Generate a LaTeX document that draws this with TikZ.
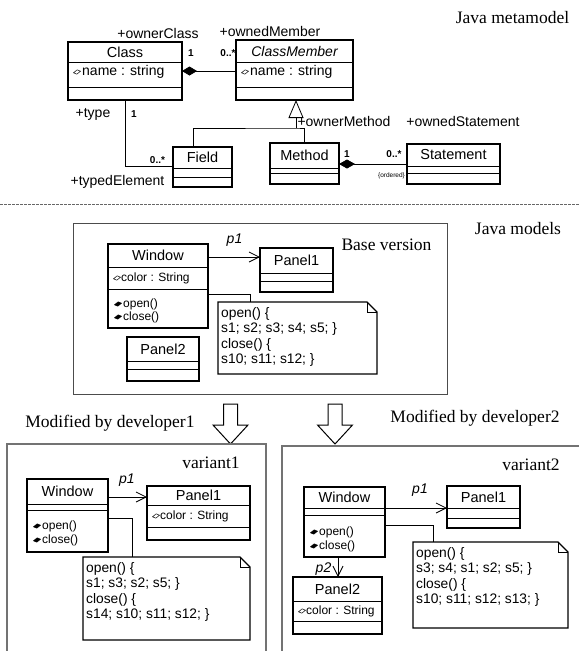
\documentclass[tikz,border=0pt]{standalone}
\usepackage{fontspec}
\setmainfont{Liberation Serif}
\setsansfont{Liberation Sans}
\usetikzlibrary{arrows.meta,calc}

\tikzset{
 umlbox/.style={draw, line width=1.3pt, inner sep=0pt, outer sep=0pt, fill=white, anchor=north west},
 divline/.style={line width=0.7pt},
 ttl/.style={font=\sffamily\fontsize{14.5}{16}\selectfont, inner sep=0pt},
 ittl/.style={font=\sffamily\itshape\fontsize{14}{16}\selectfont, inner sep=0pt},
 mmattr/.style={font=\sffamily\fontsize{14}{16}\selectfont, inner sep=0pt, anchor=west},
 attr/.style={font=\sffamily\fontsize{12}{14}\selectfont, inner sep=0pt, anchor=west},
 role/.style={font=\sffamily\fontsize{14}{16}\selectfont, inner sep=0pt},
 mult/.style={font=\sffamily\bfseries\fontsize{10}{12}\selectfont, inner sep=0pt},
 cons/.style={font=\sffamily\fontsize{6.5}{8}\selectfont, inner sep=0pt},
 lbl/.style={font=\fontsize{17.5}{20}\selectfont, inner sep=0pt},
 rolename/.style={font=\sffamily\itshape\fontsize{14}{16}\selectfont, inner sep=0pt},
 notetxt/.style={font=\sffamily\fontsize{13.8}{15.5}\selectfont, inner sep=0pt, align=left, anchor=north west},
 conn/.style={line width=0.8pt},
 assoc/.style={line width=0.8pt, -{Straight Barb[length=10pt,width=10pt,line width=0.8pt]}},
 baseframe/.style={draw=black!70, line width=1pt},
 varframe/.style={draw=black!55, line width=1.3pt},
 bigarrow/.style={draw, line width=1pt, fill=white},
}

\newcommand\umlcls[9]{%
 \node[umlbox, minimum width=#4pt, minimum height=#5pt] (#1) at (#2,#3) {};
 \draw[divline] ($(#1.north west)+(0,#6)$) -- ($(#1.north east)+(0,#6)$);
 \draw[divline] ($(#1.north west)+(0,#7)$) -- ($(#1.north east)+(0,#7)$);
 \node[#8] (#1t) at ($(#1.north)+(0,#6/2)$) {#9};
}
\newcommand\umlnote[6]{%
 \node[inner sep=0pt, outer sep=0pt, minimum width=#4pt, minimum height=#5pt, anchor=north west] (#1) at (#2,#3) {};
 \draw[line width=1.3pt, fill=white] (#1.north west) -- ($(#1.north east)+(-10,0)$) -- ($(#1.north east)+(0,10)$) -- (#1.south east) -- (#1.south west) -- cycle;
 \draw[line width=0.6pt] ($(#1.north east)+(-10,0)$) -- ($(#1.north east)+(-10,10)$) -- ($(#1.north east)+(0,10)$);
 \node[notetxt] (#1t) at ($(#1.north west)+(3,5)$) {#6};
}
\newcommand\attricon[2]{\draw[line width=0.5pt, fill=white] (#1,#2) +(-3.5,0.8) -- +(0.2,-2.2) -- +(3.5,-0.8) -- +(-0.2,2.2) -- cycle;}
\newcommand\opicon[2]{\draw[line width=0.5pt, fill=black] (#1,#2) +(-3.5,0.8) -- +(0.2,-2.2) -- +(3.5,-0.8) -- +(-0.2,2.2) -- cycle;}
\newcommand\blockarrow[1]{\draw[bigarrow] (#1-7,404) -- (#1+7,404) -- (#1+7,425) -- (#1+17.5,425) -- (#1,444) -- (#1-17.5,425) -- (#1-7,425) -- cycle;}

\begin{document}
\begin{tikzpicture}[x=1pt,y=-1pt]
\useasboundingbox (0,0) rectangle (579,651);

% ---------------- metamodel ----------------
\node[lbl] (jmm) at (512.5,18) {Java metamodel};

\umlcls{cls}{68}{42}{114}{58}{20}{45}{ttl}{Class}
\attricon{77}{72}
\node[mmattr] (clsa) at (82,72) {name : string};

\umlcls{cm}{236}{40}{117}{60}{22}{47}{ittl}{ClassMember}
\attricon{245}{72}
\node[mmattr] (cma) at (250,72) {name : string};

\draw[conn, {Diamond[length=15pt,width=9pt]}-] ($(cls.north east)+(0,29)$) -- ($(cm.north west)+(0,31)$);
\node[mult] (m1) at (191,53) {1};
\node[mult] (m2) at (228,53) {0..*};
\node[role] (r1) at (158,33) {+ownerClass};
\node[role] (r2) at (270,31) {+ownedMember};

\umlcls{fld}{173}{147}{59}{40}{21}{30}{ttl}{Field}
\draw[conn] ($(cls.south west)+(57,0)$) |- ($(fld.north west)+(0,19)$);
\node[role] (r3) at (93,114) {+type};
\node[mult] (m3) at (134,114) {1};
\node[mult] (m4) at (157.5,160) {0..*};
\node[role] (r4) at (117.5,182) {+typedElement};

\umlcls{mth}{270}{143}{69}{41}{25}{30}{ttl}{Method}
\umlcls{stm}{407}{144}{93}{40}{22}{29}{ttl}{Statement}

\coordinate (gj) at (296,128);
\draw[conn] ($(fld.north west)+(20,0)$) |- (gj) -| (mth.north);
\draw[conn, -{Triangle[open,length=18pt,width=15pt,line width=0.8pt]}] (gj) -- (gj |- cm.south);

\draw[conn, {Diamond[length=16pt,width=9pt]}-] ($(mth.north east)+(0,21)$) -- ($(stm.north west)+(0,20)$);
\node[mult] (m5) at (347,154) {1};
\node[mult] (m6) at (394,154) {0..*};
\node[cons] (ord) at (391.5,176) {\{ordered\}};
\node[role] (r5) at (344,121) {+ownerMethod};
\node[role] (r6) at (463,121) {+ownedStatement};

% separator
\draw[black!60, line width=0.8pt, dash pattern=on 2.5pt off 1.5pt] (0,204) -- (579,204);

% ---------------- base version ----------------
\node[lbl] (jm) at (518,229) {Java models};
\node[baseframe, minimum width=374pt, minimum height=171pt, anchor=north west, inner sep=0pt, outer sep=0pt] (base) at (73,223) {};
\node[lbl] (bv) at (386.5,245) {Base version};

\umlcls{bw}{108}{244}{100}{84}{23}{45}{ttl}{Window}
\attricon{117}{278}
\node[attr] (bwa) at (121,278) {color : String};
\opicon{118}{304}
\node[attr] (bwo1) at (123,304) {open()};
\opicon{118}{317}
\node[attr] (bwo2) at (123,317) {close()};

\umlcls{bp1}{260}{248}{73}{44}{25}{33}{ttl}{Panel1}
\umlcls{bp2}{127}{337}{72}{44}{24}{32}{ttl}{Panel2}

\draw[assoc] ($(bw.north east)+(0,13)$) -- ($(bp1.north west)+(0,9)$);
\node[rolename] (bpl) at (234.5,240) {p1};

\draw[conn] ($(bw.north east)+(0,50)$) -| (250,302);
\umlnote{bn}{218}{302}{159}{72}{open() \{\\s1; s2; s3; s4; s5; \}\\close() \{\\s10; s11; s12; \}}

% ---------------- arrows ----------------
\blockarrow{230.5}
\blockarrow{335}
\node[lbl] (md1) at (110,423) {Modified by developer1};
\node[lbl] (md2) at (475,418) {Modified by developer2};

% ---------------- variant 1 ----------------
\draw[varframe] (7,651) -- (7,444) -- (266,444) -- (266,651);
\node[lbl] (v1l) at (211,463) {variant1};

\umlcls{wa}{27}{479}{81}{73}{25}{31}{ttl}{Window}
\opicon{37}{526}
\node[attr] (wao1) at (42,526) {open()};
\opicon{37}{540}
\node[attr] (wao2) at (42,540) {close()};

\umlcls{pa}{147}{486}{103}{54}{19}{41}{ttl}{Panel1}
\attricon{156}{516}
\node[attr] (paa) at (160,516) {color : String};

\draw[assoc] ($(wa.north east)+(0,18)$) -- ($(pa.north west)+(0,11)$);
\node[rolename] (pal) at (127,480) {p1};

\draw[conn] ($(wa.north east)+(0,39)$) -| (132,557);
\umlnote{na}{83}{557}{167}{83}{open() \{\\s1; s3; s2; s5; \}\\close() \{\\s14; s10; s11; s12; \}}

% ---------------- variant 2 ----------------
\draw[varframe] (282,651) -- (282,446) -- (579,446);
\node[lbl] (v2l) at (531,465) {variant2};

\umlcls{wb}{304}{487}{81}{70}{21}{28}{ttl}{Window}
\opicon{314}{532}
\node[attr] (wbo1) at (319,532) {open()};
\opicon{314}{546}
\node[attr] (wbo2) at (319,546) {close()};

\umlcls{pb}{447}{486}{73}{42}{22}{32}{ttl}{Panel1}
\umlcls{pc}{293}{577}{89}{57}{24}{44}{ttl}{Panel2}
\attricon{302}{611}
\node[attr] (pca) at (306,611) {color : String};

\draw[assoc] ($(wb.north east)+(0,21)$) -- ($(pb.north west)+(0,22)$);
\node[rolename] (pbl) at (420,490) {p1};
\draw[assoc] ($(wb.south west)+(34,0)$) -- ($(pc.north west)+(45,0)$);
\node[rolename] (pcl) at (323.5,569) {p2};

\draw[conn] ($(wb.north east)+(0,38)$) -| (433,542);
\umlnote{nb}{413}{542}{155}{86}{open() \{\\s3; s4; s1; s2; s5; \}\\close() \{\\s10; s11; s12; s13; \}}
\end{tikzpicture}
\end{document}
